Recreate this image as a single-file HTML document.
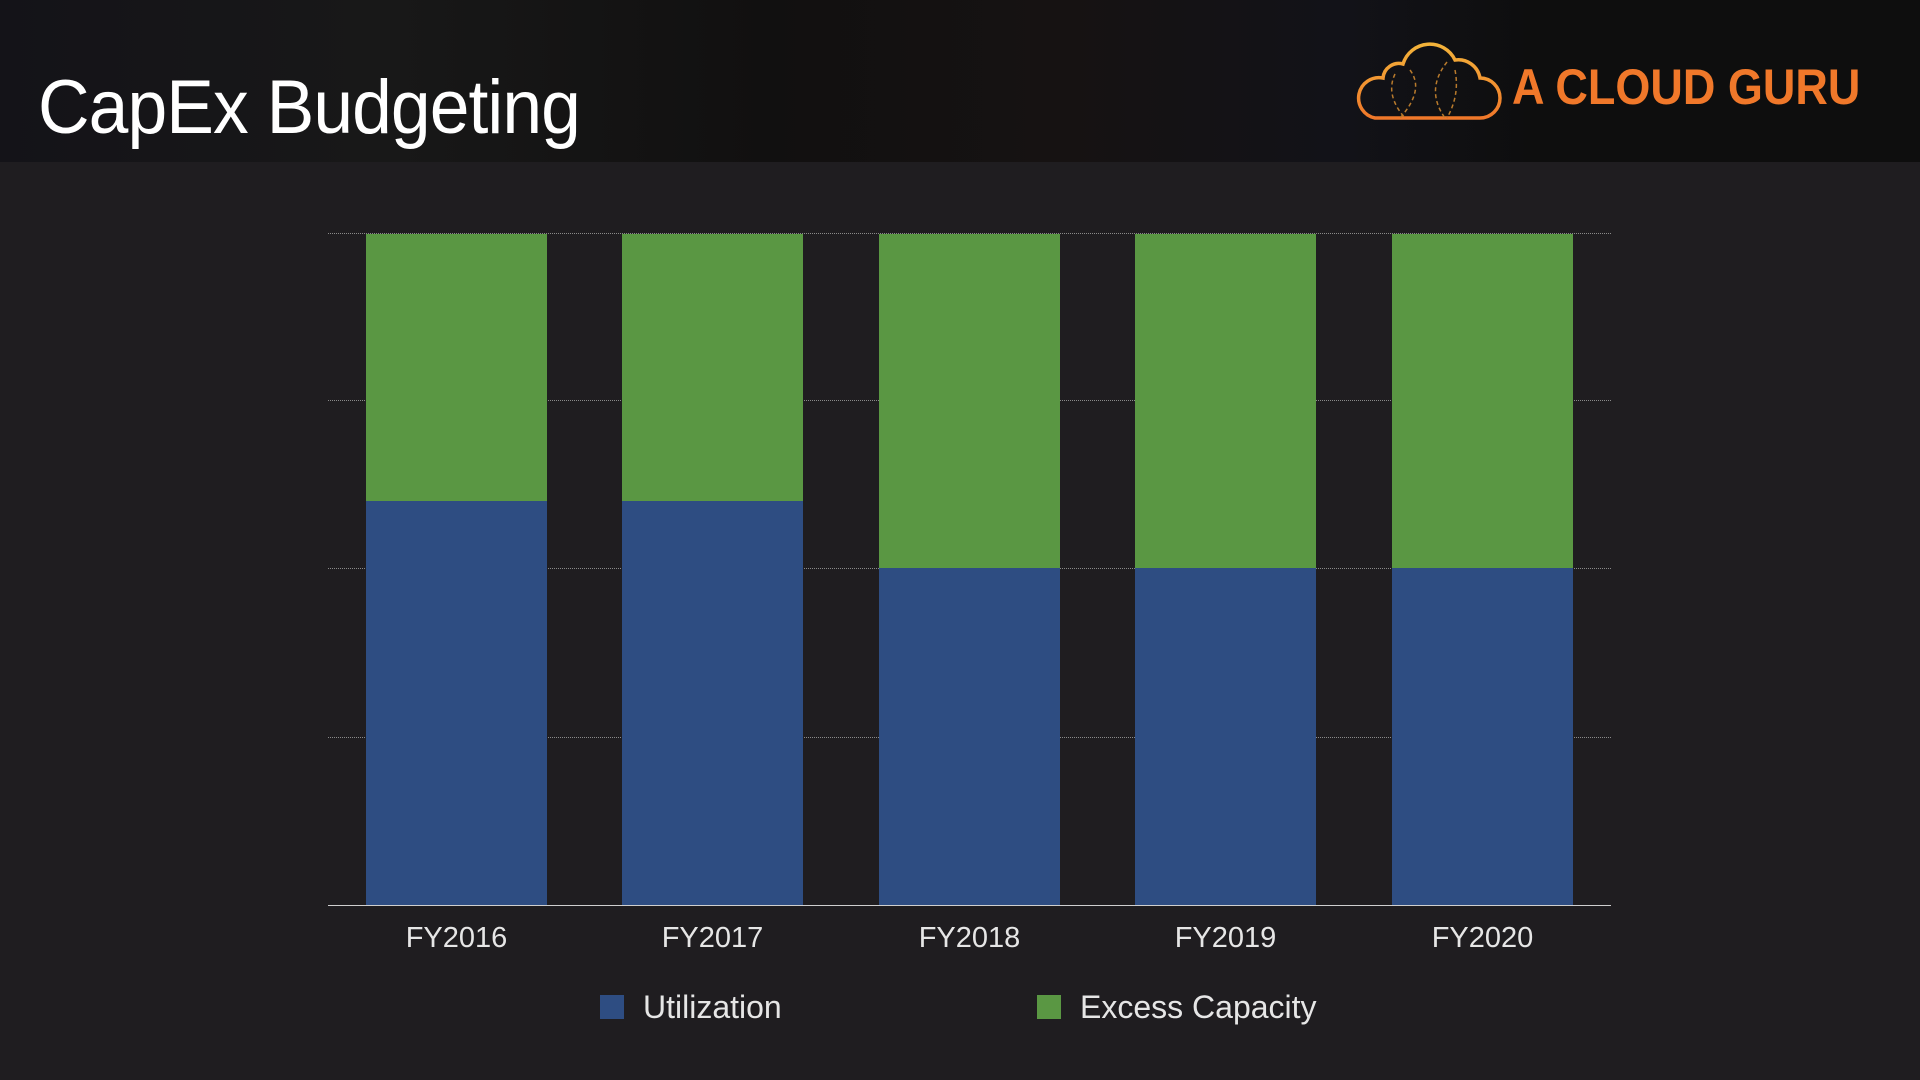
<!DOCTYPE html>
<html><head><meta charset="utf-8"><style>
html,body{margin:0;padding:0;}
body{width:1920px;height:1080px;background:#1f1d20;position:relative;overflow:hidden;font-family:"Liberation Sans",sans-serif;}
.hdr{position:absolute;left:0;top:0;width:1920px;height:162px;background:linear-gradient(90deg,#141318 0%,#181818 20%,#111010 40%,#161212 55%,#121218 70%,#0e0e0e 80%,#0e0e0e 100%);}
.title{position:absolute;left:38px;top:64px;font-size:76px;color:#fff;letter-spacing:-1px;transform:scaleX(0.94);transform-origin:0 0;}
.logo{position:absolute;left:1512px;top:58px;font-size:50px;font-weight:bold;color:#f0782a;transform:scaleX(0.9);transform-origin:0 0;}
.bar{position:absolute;width:181px;}
.g{background:#5a9743;}.b{background:#2e4d82;}
.grid{position:absolute;left:328px;width:1283px;border-top:1px dotted #8a8a8a;height:0;}
.lbl{position:absolute;top:922px;width:181px;text-align:center;font-size:29px;color:#e6e6e6;}
.lg{position:absolute;font-size:32px;color:#e6e6e6;top:989px;}
.sq{position:absolute;width:24px;height:24px;top:995px;}
</style></head><body>
<div class="hdr"></div>
<div class="title">CapEx Budgeting</div>
<svg style="position:absolute;left:1355px;top:40px" width="150" height="84" viewBox="0 0 150 84">
<defs><linearGradient id="og" x1="0" y1="0" x2="0" y2="1"><stop offset="0" stop-color="#f3b33a"/><stop offset="1" stop-color="#f0782a"/></linearGradient></defs>
<path d="M20 78 H125 A20 20 0 0 0 125 38 A22 22 0 0 0 100 20 A28 28 0 0 0 48 24 A16 16 0 0 0 28 38 A20 20 0 0 0 20 78 Z" fill="none" stroke="url(#og)" stroke-width="3.5"/>
<path d="M40 34 Q30 55 50 78 M55 30 Q70 50 45 78 M92 22 Q70 50 90 78 M100 30 Q105 55 92 78" fill="none" stroke="#b87a2c" stroke-width="1.5" stroke-dasharray="4 3"/>
</svg>
<div class="logo">A CLOUD GURU</div>

<div class="grid" style="top:233px"></div>
<div class="grid" style="top:400px"></div>
<div class="grid" style="top:568px"></div>
<div class="grid" style="top:737px"></div>

<div class="bar g" style="left:366px;top:234px;height:267px"></div>
<div class="bar b" style="left:366px;top:501px;height:404px"></div>
<div class="bar g" style="left:622px;top:234px;height:267px"></div>
<div class="bar b" style="left:622px;top:501px;height:404px"></div>
<div class="bar g" style="left:879px;top:234px;height:334px"></div>
<div class="bar b" style="left:879px;top:568px;height:337px"></div>
<div class="bar g" style="left:1135px;top:234px;height:334px"></div>
<div class="bar b" style="left:1135px;top:568px;height:337px"></div>
<div class="bar g" style="left:1392px;top:234px;height:334px"></div>
<div class="bar b" style="left:1392px;top:568px;height:337px"></div>

<div style="position:absolute;left:328px;top:905px;width:1283px;height:1px;background:#cfcfcf"></div>

<div class="lbl" style="left:366px">FY2016</div>
<div class="lbl" style="left:622px">FY2017</div>
<div class="lbl" style="left:879px">FY2018</div>
<div class="lbl" style="left:1135px">FY2019</div>
<div class="lbl" style="left:1392px">FY2020</div>

<div class="sq b" style="left:600px"></div>
<div class="lg" style="left:643px">Utilization</div>
<div class="sq g" style="left:1037px"></div>
<div class="lg" style="left:1080px">Excess Capacity</div>
</body></html>
